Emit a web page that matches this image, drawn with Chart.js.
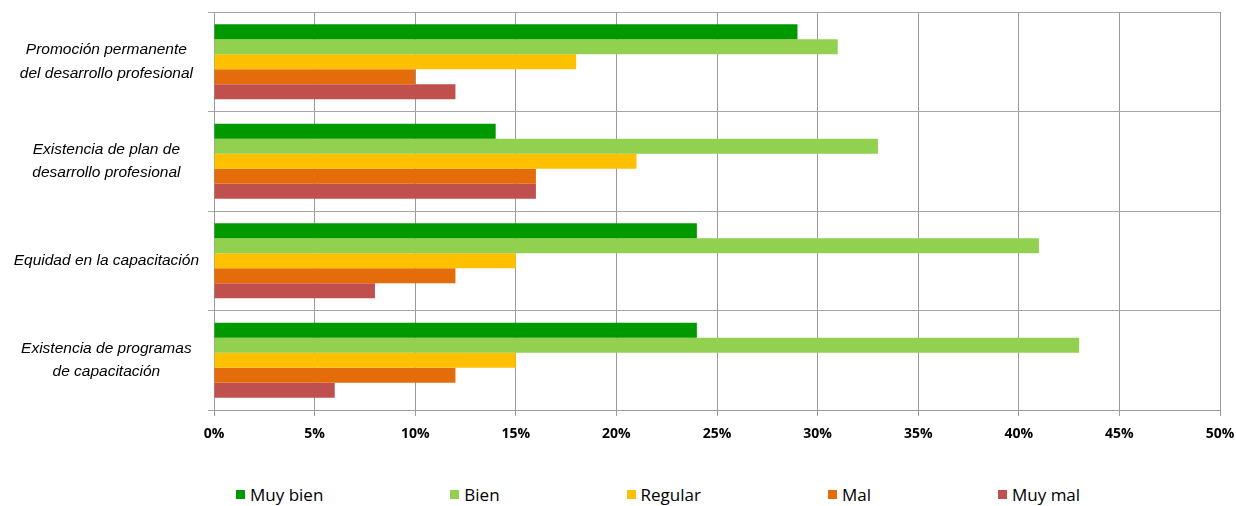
<!DOCTYPE html>
<html>
<head>
<meta charset="utf-8">
<script src="https://cdn.jsdelivr.net/npm/chart.js@4"></script>
<style>
  body { margin: 0; background: #fff; }
  #wrap { position: relative; width: 1236px; height: 506px; }
  #box { position: absolute; left: 0; top: 0; width: 1236px; height: 452px; }
  #legend { position: absolute; left: 236px; top: 483px; display: flex; align-items: center;
            font-family: "Open Sans", sans-serif; font-size: 17px; color: #000; }
  #legend .item { display: flex; align-items: center; margin-right: 127px; }
  #legend .sw { width: 9px; height: 9px; margin-right: 5px; }
</style>
</head>
<body>
<div id="wrap">
  <div id="box"><canvas id="chart"></canvas></div>
  <div id="legend"></div>
</div>
<script>
// categorias (de arriba hacia abajo)
const categorias = [
  ["Promoción permanente", "del desarrollo profesional"],
  ["Existencia de plan de", "desarrollo profesional"],
  "Equidad en la capacitación",
  ["Existencia de programas", "de capacitación"]
];
const series = ["Muy bien", "Bien", "Regular", "Mal", "Muy mal"];
const colores = ["#009900", "#92D050", "#FFC000", "#E46C0A", "#C0504D"];

// porcentajes por serie
const muyBien = [29, 14, 24, 24];
const bien    = [31, 33, 41, 43];
const regular = [18, 21, 15, 15];
const mal     = [10, 16, 12, 12];
const muyMal  = [12, 16, 8, 6];

const ticksX = [0, 5, 10, 15, 20, 25, 30, 35, 40, 45, 50];

const valores = [muyBien, bien, regular, mal, muyMal];

const datasets = series.map((s, i) => ({
  label: s,
  data: valores[i],
  backgroundColor: colores[i],
  borderWidth: 0,
  categoryPercentage: 0.755,
  barPercentage: 1.0
}));

const ctx = document.getElementById("chart").getContext("2d");
const myChart = new Chart(ctx, {
  type: "bar",
  data: { labels: categorias, datasets: datasets },
  options: {
    indexAxis: "y",
    responsive: true,
    maintainAspectRatio: false,
    animation: false,
    layout: { padding: { top: 12, right: 16, left: 0, bottom: 0 } },
    plugins: { legend: { display: false }, tooltip: { enabled: false } },
    scales: {
      x: {
        min: 0,
        max: 50,
        afterBuildTicks: (scale) => { scale.ticks = ticksX.map(v => ({ value: v })); },
        ticks: {
          callback: (v) => v + "%",
          color: "#000",
          padding: 10,
          font: { family: "Open Sans", size: 14, weight: "bold" }
        },
        grid: { color: "#9a9a9a", tickLength: 6, lineWidth: 1 },
        border: { color: "#9a9a9a" },
        afterFit: (scale) => {
          scale.height = 42;
          scale.paddingLeft = 0;
          scale.paddingRight = 0;
        }
      },
      y: {
        ticks: {
          color: "#000",
          padding: 9,
          crossAlign: "center",
          font: { family: "'Liberation Sans', Arial, sans-serif", size: 15.5, style: "italic", lineHeight: 1.5 }
        },
        grid: { color: "#a6a6a6", tickLength: 6, offset: true },
        border: { color: "#9a9a9a" },
        afterFit: (scale) => {
          scale.width = 214;
          scale.paddingTop = 0;
          scale.paddingBottom = 0;
        }
      }
    }
  }
});

// leyenda
const legend = document.getElementById("legend");
series.forEach((s, i) => {
  const item = document.createElement("div");
  item.className = "item";
  const sw = document.createElement("span");
  sw.className = "sw";
  sw.style.background = colores[i];
  const txt = document.createElement("span");
  txt.textContent = s;
  item.appendChild(sw);
  item.appendChild(txt);
  legend.appendChild(item);
});
</script>
</body>
</html>
